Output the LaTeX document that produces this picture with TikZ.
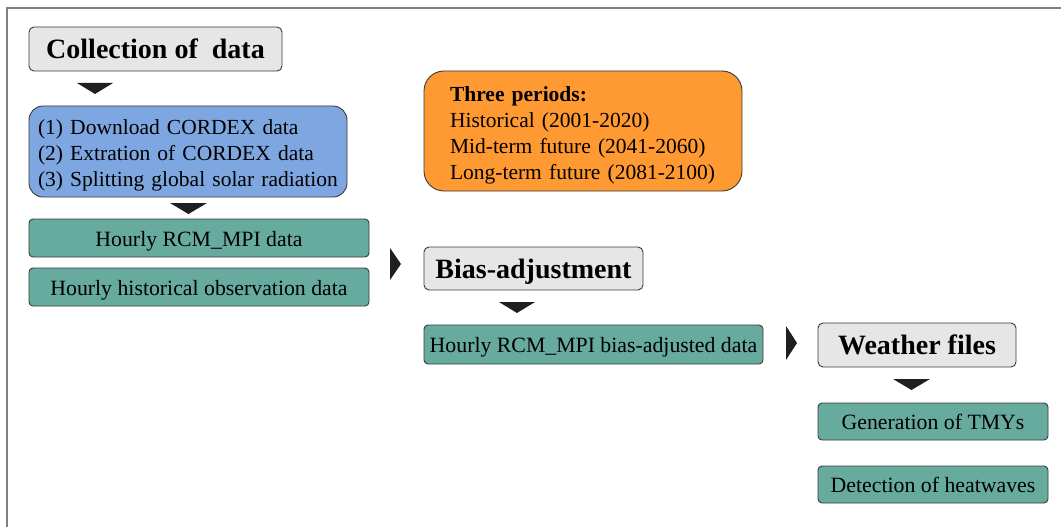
\documentclass[tikz,border=0pt]{standalone}
\usepackage{fontspec}
\setmainfont{Liberation Serif}
\usetikzlibrary{positioning}

\definecolor{headgray}{HTML}{E6E6E6}
\definecolor{stepblue}{HTML}{7EA6E0}
\definecolor{periodorange}{HTML}{FF9A33}
\definecolor{datagreen}{HTML}{67AB9F}
\definecolor{edgegray}{HTML}{3A3A3A}

\begin{document}
\begin{tikzpicture}[
  x=1pt,y=-1pt,
  head/.style={draw=edgegray,line width=0.9pt,fill=headgray,rounded corners=5pt,
    font=\fontsize{28}{32}\selectfont\bfseries,inner sep=0pt,text depth=0pt},
  datbox/.style={draw=edgegray,line width=0.9pt,fill=datagreen,rounded corners=4pt,
    font=\fontsize{21.8}{26}\selectfont,inner sep=0pt,text height=16pt,text depth=0pt},
  listbox/.style={draw=edgegray,line width=0.9pt,inner ysep=0pt,align=left,
    font=\fontsize{21.5}{26}\selectfont},
  tri/.style={fill=black!88}
]
  \useasboundingbox (0,0) rectangle (1061,527);
  \draw[gray,line width=1.2pt] (7,527) -- (7,8) -- (1061,8);

  \node[head,minimum width=253,minimum height=44] (coll) at (155.5,49) {Collection of\ \ data};
  \node[listbox,fill=stepblue,rounded corners=14pt,minimum width=318,minimum height=91,
    text width=300,inner xsep=9pt] (steps) at (188,151.5)
    {\rule{0pt}{23pt}(1) Download CORDEX data\\(2) Extration of CORDEX data\\(3) Splitting global solar radiation};
  \node[datbox,minimum width=340,minimum height=38] (rcm) at (199,238) {Hourly RCM\_MPI data};
  \node[datbox,minimum width=340,minimum height=38] (obs) at (199,287) {Hourly historical observation data};

  \node[listbox,fill=periodorange,rounded corners=20pt,minimum width=318,minimum height=120,
    text width=266,inner xsep=26pt] (periods) at (583,131)
    {\rule{0pt}{23pt}\textbf{Three periods:}\\Historical (2001-2020)\\Mid-term future (2041-2060)\\Long-term future (2081-2100)};

  \node[head,minimum width=219,minimum height=43] (bias) at (533.5,268.5) {Bias-adjustment};
  \node[datbox,minimum width=339,minimum height=39] (adj) at (593.5,344.5) {Hourly RCM\_MPI bias-adjusted data};

  \node[head,minimum width=198,minimum height=44] (weather) at (917,345) {Weather files};
  \node[datbox,minimum width=230,minimum height=37] (tmy) at (933,421.5) {Generation of TMYs};
  \node[datbox,minimum width=230,minimum height=37] (heat) at (933,484.5) {Detection of heatwaves};

  \fill[tri] (77,83) -- (113,83) -- (95,94) -- cycle;
  \fill[tri] (170,203) -- (207,203) -- (188.5,214) -- cycle;
  \fill[tri] (499,302) -- (535,302) -- (517,313) -- cycle;
  \fill[tri] (893,379) -- (930,379) -- (911.5,390) -- cycle;
  \fill[tri] (390,248) -- (390,280) -- (401,264) -- cycle;
  \fill[tri] (786,326) -- (786,360) -- (797,343) -- cycle;
\end{tikzpicture}
\end{document}
